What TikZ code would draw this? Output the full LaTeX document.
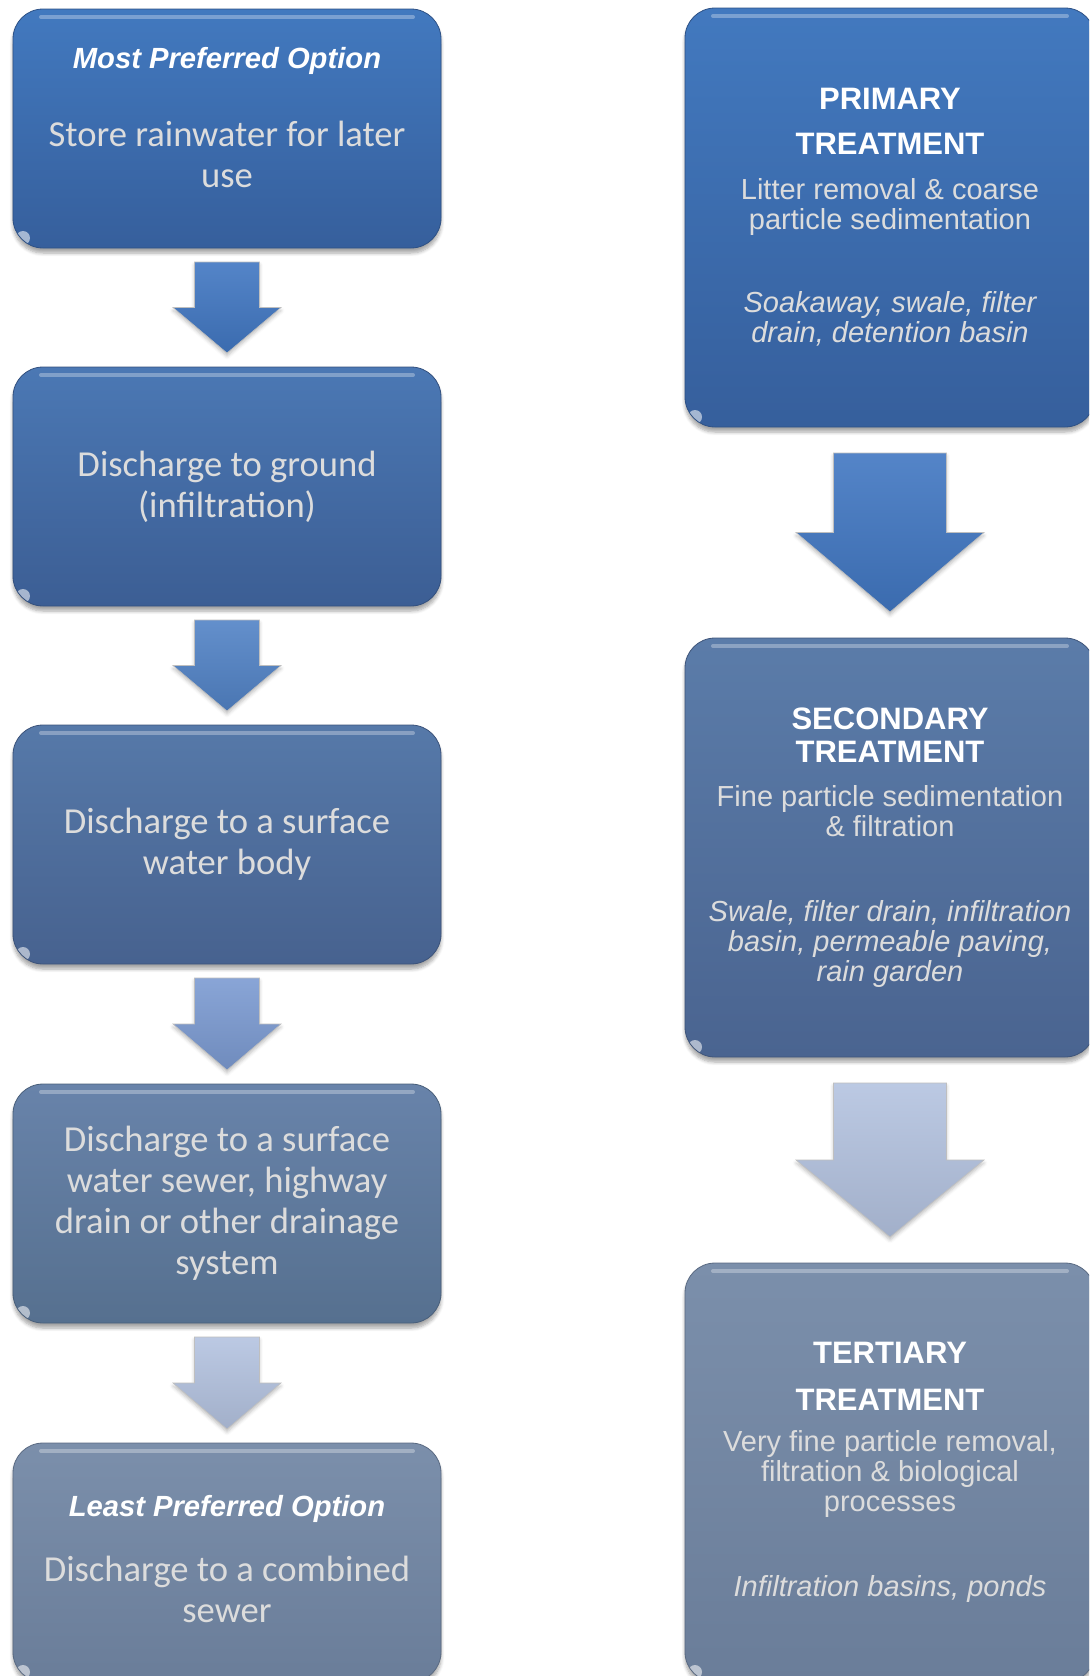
\documentclass[tikz,border=0pt]{standalone}
\usepackage{fontspec}
\usepackage{xcolor}
\usetikzlibrary{positioning, calc, shadows.blur}

\newfontfamily\calibri{Carlito}
\newfontfamily\arial{Liberation Sans}

% box shades, from most to least preferred
\definecolor{boxAt}{HTML}{4279BF}\definecolor{boxAb}{HTML}{365F9C}
\definecolor{boxBt}{HTML}{4B78B4}\definecolor{boxBb}{HTML}{3C5E94}
\definecolor{boxCt}{HTML}{5679A9}\definecolor{boxCb}{HTML}{47628F}
\definecolor{boxDt}{HTML}{6883AA}\definecolor{boxDb}{HTML}{56708F}
\definecolor{boxEt}{HTML}{7B8FAB}\definecolor{boxEb}{HTML}{6A7D99}
\definecolor{boxFt}{HTML}{5B7CA9}\definecolor{boxFb}{HTML}{4A6490}
\definecolor{bodygrey}{HTML}{DCDCDC}
% arrow shades
\definecolor{arrA}{HTML}{4177C2}
\definecolor{arrB}{HTML}{5283C6}
\definecolor{arrC}{HTML}{7C9BD2}
\definecolor{arrD}{HTML}{B4C3E0}

\newcommand{\optionhead}[1]{{\arial\bfseries\itshape\fontsize{14.6}{15}\selectfont\color{white}#1}}
\newcommand{\heading}[1]{{\arial\bfseries\fontsize{15.5}{15}\selectfont\color{white}#1}}
\newcommand{\example}[1]{{\itshape #1}}

% block arrow between two boxes: from, to, gap, half shaft, half head, colour
\newcommand{\flowarrow}[6]{%
  \coordinate (atop) at ($(#1.south)+(0,#3)$);
  \coordinate (atip) at ($(#2.north)-(0,#3)$);
  \coordinate (aneck) at ($(atop)!0.5!(atip)$);
  \path[blockarrow, top color=#6!90!white, bottom color=#6!90!black]
    ($(atop)+(-#4,0)$) -- ($(atop)+(#4,0)$) -- ($(aneck)+(#4,0)$) -- ($(aneck)+(#5,0)$)
    -- (atip) -- ($(aneck)+(-#5,0)$) -- ($(aneck)+(-#4,0)$) -- cycle;
}

\begin{document}
\begin{tikzpicture}[
    x=0.5pt, y=-0.5pt,
    box/.style={rounded corners=15pt, outer sep=0pt, align=center, text=bodygrey,
      blur shadow={shadow xshift=0pt, shadow yshift=-2.5pt, shadow blur steps=6, shadow opacity=35},
      path picture={
        \draw[white, opacity=.3, line width=2pt, line cap=round]
          ([xshift=14pt,yshift=-4pt]path picture bounding box.north west)
          -- ([xshift=-14pt,yshift=-4pt]path picture bounding box.north east);
        \fill[white, opacity=.55]
          ([xshift=5pt,yshift=5pt]path picture bounding box.south west) circle (3.5pt);
      }},
    option/.style={box, minimum width=214pt, minimum height=119.5pt,
      font=\calibri\fontsize{18.3}{20.5}\selectfont},
    treatment/.style={box, minimum width=205pt, minimum height=209.5pt,
      font=\arial\fontsize{14.5}{15}\selectfont},
    shade/.style 2 args={top color=#1, bottom color=#2, draw=#2!85!black, line width=0.4pt},
    blockarrow/.style={draw=black!25, line width=0.3pt,
      blur shadow={shadow xshift=0pt, shadow yshift=-1.5pt, shadow blur steps=4, shadow opacity=25}}
  ]
  \useasboundingbox (0,0) rectangle (1089,1676);
  \clip (0,0) rectangle (1089,1676);

  % hierarchy of discharge options
  \node[option, shade={boxAt}{boxAb}, text depth=11pt] (store) at (227,128.5)
    {\optionhead{Most Preferred Option}\\[18.5pt] Store rainwater for later\\use};
  \node[option, shade={boxBt}{boxBb}, below=59.5pt of store] (ground)
    {Discharge to ground\\(infiltration)};
  \node[option, shade={boxCt}{boxCb}, below=59.5pt of ground] (surface)
    {Discharge to a surface\\water body};
  \node[option, shade={boxDt}{boxDb}, below=60pt of surface] (sewer)
    {Discharge to a surface\\water sewer, highway\\drain or other drainage\\system};
  \node[option, shade={boxEt}{boxEb}, below=60pt of sewer, text depth=4pt] (combined)
    {\optionhead{Least Preferred Option}\\[12pt] Discharge to a combined\\sewer};

  \flowarrow{store}{ground}{14}{32.5}{54}{arrA}
  \flowarrow{ground}{surface}{14}{32.5}{54}{arrB}
  \flowarrow{surface}{sewer}{14}{32.5}{54}{arrC}
  \flowarrow{sewer}{combined}{14}{32.5}{54}{arrD}

  % treatment train
  \node[treatment, shade={boxAt}{boxAb}] (primary) at (890,217.5)
    {\heading{PRIMARY}\\[7.5pt] \heading{TREATMENT}\\[7.5pt]
     Litter removal \& coarse\\particle sedimentation\\[26.5pt]
     \example{Soakaway, swale, filter}\\\example{drain, detention basin}};
  \node[treatment, shade={boxFt}{boxFb}, below=105.5pt of primary] (secondary)
    {\heading{SECONDARY}\\[1.5pt] \heading{TREATMENT}\\[7pt]
     Fine particle sedimentation\\\& filtration\\[27.5pt]
     \example{Swale, filter drain, infiltration}\\\example{basin, permeable paving,}\\\example{rain garden}};
  \node[treatment, shade={boxEt}{boxEb}, below=103pt of secondary] (tertiary)
    {\heading{TERTIARY}\\[8.5pt] \heading{TREATMENT}\\[5.5pt]
     Very fine particle removal,\\filtration \& biological\\processes\\[27.5pt]
     \example{Infiltration basins, ponds}};

  \flowarrow{primary}{secondary}{26}{56.5}{94}{arrA}
  \flowarrow{secondary}{tertiary}{26}{56.5}{94}{arrD}
\end{tikzpicture}
\end{document}
